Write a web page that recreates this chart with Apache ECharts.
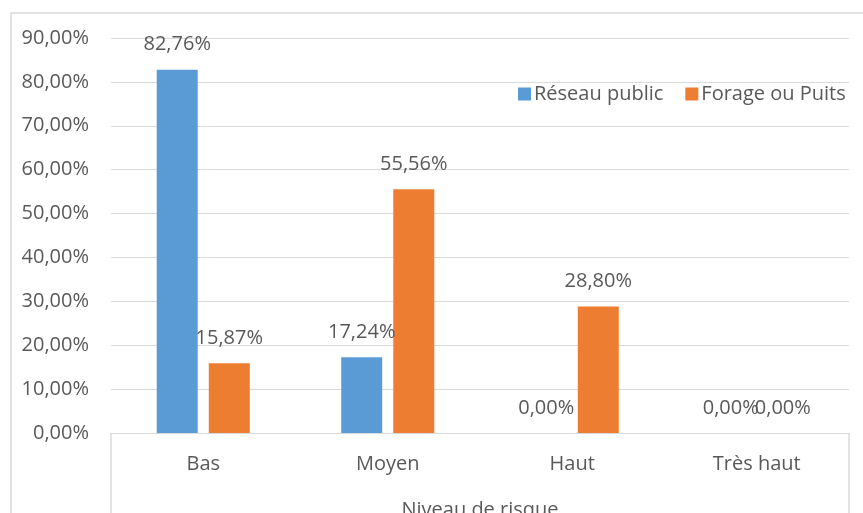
<!DOCTYPE html>
<html>
<head>
<meta charset="utf-8">
<style>
  html, body { margin: 0; padding: 0; background: #fff; }
  #container { width: 863px; height: 513px; }
</style>
<script src="https://cdn.jsdelivr.net/npm/echarts@6/dist/echarts.min.js"></script>
</head>
<body>
<div id="container"></div>
<script>
var dom = document.getElementById('container');
var myChart = echarts.init(dom, null, { renderer: 'canvas' });

// data
const categories = ['Bas', 'Moyen', 'Haut', 'Très haut'];
const reseauPublic = [82.76, 17.24, 0, 0];
const forageOuPuits = [15.87, 55.56, 28.80, 0];
const seriesNames = ['Réseau public', 'Forage ou Puits'];

const color1 = '#5b9bd5';
const color2 = '#ed7d31';
const textColor = '#595959';
const lineColor = '#d9d9d9';
const font = 'Open Sans';
const fs = 20;

function pct(v) {
  return v.toFixed(2).replace('.', ',') + '%';
}

const labelStyle = {
  show: true,
  position: 'top',
  distance: 15,
  color: textColor,
  fontSize: fs,
  fontFamily: font,
  formatter: p => pct(p.value)
};

var option = {
  animation: false,
  textStyle: { fontFamily: font },
  grid: { left: 111, right: 14, top: 38, bottom: 80, containLabel: false, outerBoundsMode: 'none' },
  legend: {
    data: seriesNames,
    left: 513,
    top: 79,
    itemWidth: 13,
    itemHeight: 13,
    itemGap: 22,
    icon: 'rect',
    textStyle: { color: textColor, fontSize: fs, fontFamily: font, padding: [0, 0, 0, -2] }
  },
  xAxis: {
    type: 'category',
    data: categories,
    name: 'Niveau de risque',
    nameLocation: 'middle',
    nameGap: 67,
    nameTextStyle: { color: textColor, fontSize: fs, fontFamily: font, verticalAlign: 'top' },
    axisLine: { lineStyle: { color: lineColor } },
    axisTick: { show: false },
    axisLabel: { color: textColor, fontSize: fs, fontFamily: font, margin: 21 }
  },
  yAxis: {
    type: 'value',
    min: 0,
    max: 90,
    interval: 10,
    axisLine: { show: false },
    axisTick: { show: false },
    splitLine: { lineStyle: { color: lineColor } },
    axisLabel: {
      color: textColor, fontSize: fs, fontFamily: font, margin: 22,
      formatter: v => pct(v)
    }
  },
  graphic: [
    { type: 'rect', shape: { x: 11, y: 13, width: 870, height: 520 },
      style: { fill: null, stroke: lineColor, lineWidth: 1.5 }, silent: true },
    { type: 'line', shape: { x1: 111, y1: 433, x2: 111, y2: 520 },
      style: { stroke: lineColor, lineWidth: 1.5 }, silent: true },
    { type: 'line', shape: { x1: 849, y1: 433, x2: 849, y2: 520 },
      style: { stroke: lineColor, lineWidth: 1.5 }, silent: true }
  ],
  series: [
    {
      name: seriesNames[0],
      type: 'bar',
      data: reseauPublic,
      barWidth: 41,
      barGap: '27%',
      itemStyle: { color: color1 },
      label: labelStyle
    },
    {
      name: seriesNames[1],
      type: 'bar',
      data: forageOuPuits,
      barWidth: 41,
      itemStyle: { color: color2 },
      label: labelStyle
    }
  ]
};

myChart.setOption(option);
window.addEventListener('resize', myChart.resize);
</script>
</body>
</html>
